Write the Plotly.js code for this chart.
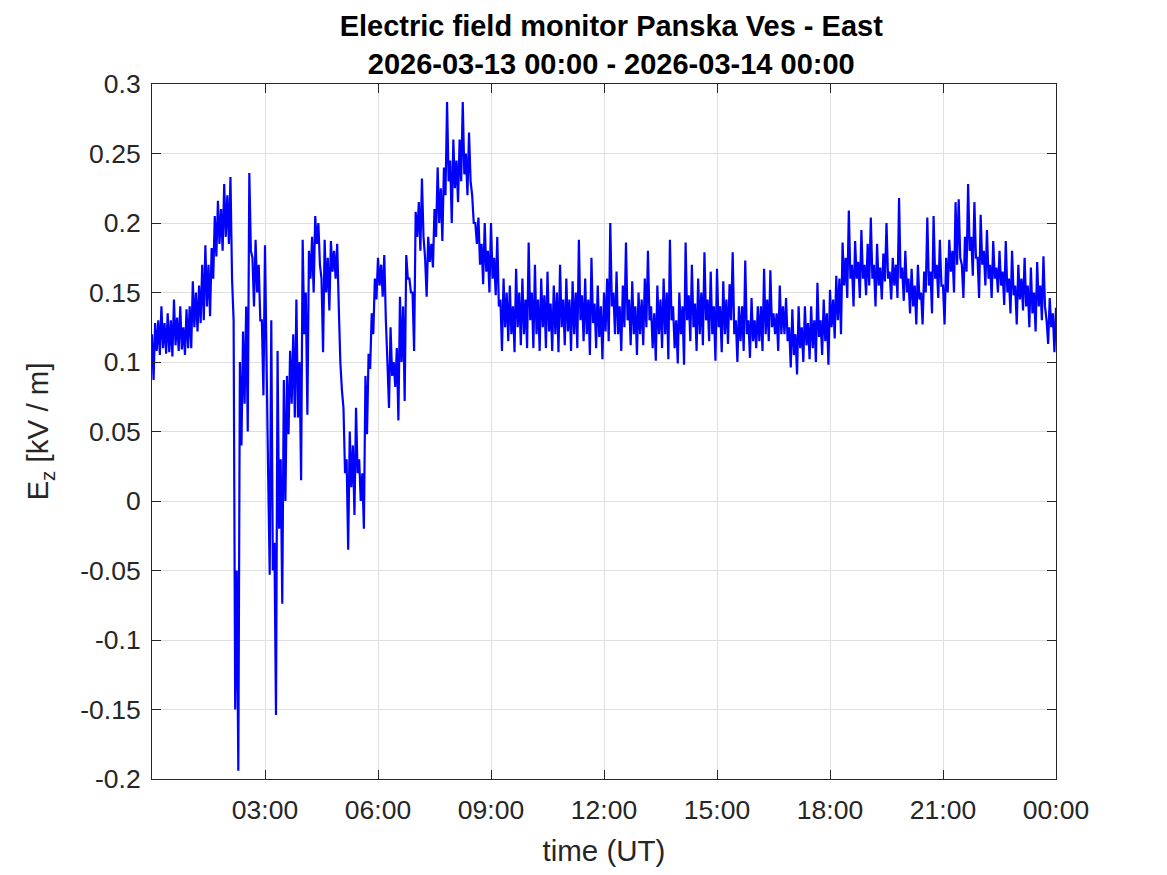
<!DOCTYPE html>
<html>
<head>
<meta charset="utf-8">
<script src="https://cdn.plot.ly/plotly-3.0.1.min.js"></script>
<style>html,body{margin:0;padding:0;background:#fff;}#chart{width:1167px;height:875px;}</style>
</head>
<body>
<div id="chart"></div>
<script>
// Sampling grid: one reading every 150 s (2.5 min) from 2026-03-13 00:00 to 2026-03-14 00:00
const startDay = '2026-03-13';
const endDay = '2026-03-14';
const stepSeconds = 150;

// Ez [kV/m], one row per hour (24 samples per row)
const ezValues = [
  0.12, 0.087, 0.128, 0.108, 0.13, 0.105, 0.14, 0.11, 0.128, 0.106, 0.135, 0.107, 0.13, 0.104, 0.145, 0.112, 0.132, 0.108, 0.14, 0.109, 0.125, 0.105, 0.138, 0.11,
  0.14, 0.11, 0.158, 0.125, 0.15, 0.122, 0.155, 0.128, 0.17, 0.13, 0.184, 0.14, 0.17, 0.133, 0.182, 0.16, 0.205, 0.176, 0.216, 0.185, 0.21, 0.18, 0.228, 0.19,
  0.22, 0.185, 0.233, 0.16, 0.13, -0.15, -0.05, -0.194, 0.1, 0.04, 0.122, 0.07, 0.14, 0.05, 0.236, 0.18, 0.175, 0.14, 0.188, 0.15, 0.17, 0.13, 0.13, 0.076,
  0.184, 0.1, 0.02, -0.053, 0.13, -0.05, -0.03, -0.154, 0.108, -0.02, 0.03, -0.074, 0.087, 0.0, 0.09, 0.048, 0.108, 0.07, 0.12, 0.06, 0.145, 0.06, 0.1, 0.015,
  0.188, 0.12, 0.15, 0.062, 0.18, 0.16, 0.19, 0.15, 0.205, 0.185, 0.2, 0.17, 0.16, 0.107, 0.188, 0.15, 0.175, 0.137, 0.187, 0.165, 0.18, 0.16, 0.185, 0.14,
  0.1, 0.08, 0.067, 0.02, 0.03, -0.035, 0.05, 0.01, 0.04, -0.01, 0.067, 0.02, 0.03, 0.0, 0.02, -0.02, 0.09, 0.048, 0.106, 0.095, 0.135, 0.12, 0.16, 0.145,
  0.175, 0.155, 0.17, 0.147, 0.177, 0.13, 0.1, 0.067, 0.125, 0.09, 0.1, 0.082, 0.11, 0.058, 0.147, 0.1, 0.14, 0.072, 0.177, 0.16, 0.16, 0.15, 0.15, 0.108,
  0.208, 0.19, 0.215, 0.18, 0.232, 0.19, 0.175, 0.147, 0.19, 0.172, 0.185, 0.168, 0.21, 0.19, 0.24, 0.2, 0.225, 0.187, 0.24, 0.22, 0.287, 0.23, 0.245, 0.2,
  0.26, 0.225, 0.245, 0.215, 0.26, 0.23, 0.287, 0.235, 0.25, 0.22, 0.265, 0.23, 0.22, 0.2, 0.2, 0.185, 0.204, 0.17, 0.185, 0.156, 0.2, 0.165, 0.18, 0.15,
  0.2, 0.16, 0.175, 0.148, 0.19, 0.14, 0.145, 0.108, 0.16, 0.125, 0.15, 0.115, 0.155, 0.12, 0.14, 0.107, 0.167, 0.125, 0.15, 0.112, 0.16, 0.12, 0.145, 0.11,
  0.186, 0.13, 0.15, 0.11, 0.17, 0.12, 0.145, 0.108, 0.16, 0.125, 0.148, 0.11, 0.165, 0.122, 0.142, 0.108, 0.155, 0.12, 0.15, 0.107, 0.17, 0.125, 0.145, 0.112,
  0.16, 0.122, 0.145, 0.108, 0.158, 0.12, 0.15, 0.11, 0.188, 0.13, 0.148, 0.115, 0.16, 0.12, 0.145, 0.105, 0.175, 0.128, 0.142, 0.11, 0.155, 0.118, 0.14, 0.102,
  0.15, 0.122, 0.16, 0.115, 0.2, 0.14, 0.15, 0.12, 0.165, 0.12, 0.14, 0.108, 0.155, 0.125, 0.186, 0.13, 0.145, 0.112, 0.158, 0.12, 0.14, 0.105, 0.15, 0.12,
  0.145, 0.112, 0.16, 0.125, 0.18, 0.13, 0.14, 0.11, 0.135, 0.101, 0.155, 0.12, 0.145, 0.11, 0.16, 0.12, 0.15, 0.102, 0.188, 0.13, 0.14, 0.11, 0.13, 0.099,
  0.15, 0.12, 0.14, 0.098, 0.186, 0.13, 0.148, 0.115, 0.17, 0.125, 0.142, 0.108, 0.16, 0.12, 0.15, 0.112, 0.179, 0.13, 0.145, 0.115, 0.165, 0.12, 0.14, 0.101,
  0.167, 0.125, 0.14, 0.107, 0.158, 0.12, 0.145, 0.113, 0.156, 0.13, 0.179, 0.12, 0.13, 0.1, 0.14, 0.115, 0.14, 0.108, 0.173, 0.12, 0.13, 0.103, 0.146, 0.115,
  0.13, 0.11, 0.14, 0.115, 0.14, 0.108, 0.167, 0.12, 0.145, 0.115, 0.166, 0.125, 0.135, 0.12, 0.135, 0.108, 0.155, 0.12, 0.14, 0.12, 0.146, 0.115, 0.125, 0.096,
  0.138, 0.105, 0.12, 0.091, 0.14, 0.11, 0.125, 0.1, 0.14, 0.112, 0.128, 0.102, 0.14, 0.11, 0.13, 0.1, 0.157, 0.118, 0.13, 0.105, 0.145, 0.115, 0.135, 0.098,
  0.152, 0.125, 0.145, 0.117, 0.162, 0.13, 0.16, 0.12, 0.186, 0.155, 0.175, 0.146, 0.209, 0.16, 0.17, 0.14, 0.187, 0.16, 0.172, 0.146, 0.195, 0.16, 0.17, 0.148,
  0.185, 0.155, 0.204, 0.16, 0.17, 0.14, 0.185, 0.155, 0.168, 0.145, 0.178, 0.158, 0.2, 0.16, 0.165, 0.145, 0.175, 0.155, 0.17, 0.146, 0.218, 0.16, 0.168, 0.144,
  0.18, 0.15, 0.16, 0.135, 0.167, 0.14, 0.155, 0.127, 0.17, 0.145, 0.15, 0.127, 0.165, 0.15, 0.204, 0.155, 0.165, 0.135, 0.205, 0.16, 0.17, 0.146, 0.188, 0.155,
  0.155, 0.127, 0.175, 0.15, 0.188, 0.165, 0.18, 0.15, 0.215, 0.17, 0.217, 0.175, 0.17, 0.146, 0.19, 0.165, 0.228, 0.18, 0.19, 0.162, 0.215, 0.175, 0.175, 0.146,
  0.206, 0.17, 0.18, 0.155, 0.195, 0.16, 0.17, 0.146, 0.187, 0.16, 0.168, 0.15, 0.18, 0.155, 0.165, 0.141, 0.187, 0.15, 0.16, 0.135, 0.18, 0.148, 0.155, 0.127,
  0.17, 0.145, 0.16, 0.137, 0.175, 0.14, 0.155, 0.125, 0.168, 0.135, 0.15, 0.122, 0.172, 0.14, 0.155, 0.13, 0.176, 0.14, 0.13, 0.113, 0.146, 0.125, 0.135, 0.107,
  0.139
];

const xTickTimes = ['2026-03-13 03:00', '2026-03-13 06:00', '2026-03-13 09:00', '2026-03-13 12:00',
                    '2026-03-13 15:00', '2026-03-13 18:00', '2026-03-13 21:00', '2026-03-14 00:00'];
const xTickLabels = ['03:00', '06:00', '09:00', '12:00', '15:00', '18:00', '21:00', '00:00'];
const yTickValues = [-0.2, -0.15, -0.1, -0.05, 0, 0.05, 0.1, 0.15, 0.2, 0.25, 0.3];
const yTickLabels = ['-0.2', '-0.15', '-0.1', '-0.05', '0', '0.05', '0.1', '0.15', '0.2', '0.25', '0.3'];

function pad(n) { return (n < 10 ? '0' : '') + n; }
function stamp(totalSec) {
  const day = totalSec >= 86400 ? endDay : startDay;
  const s = totalSec % 86400;
  return day + ' ' + pad(Math.floor(s / 3600)) + ':' + pad(Math.floor((s % 3600) / 60)) + ':' + pad(s % 60);
}
const times = ezValues.map((v, i) => stamp(i * stepSeconds));

const FONT = 'Liberation Sans, Arial, Helvetica, sans-serif';
const AX = '#262626';

const trace = {
  type: 'scatter', mode: 'lines',
  x: times, y: ezValues,
  line: { color: '#0000ff', width: 2.2, simplify: false },
  hoverinfo: 'skip'
};

const layout = {
  width: 1167, height: 875,
  margin: { l: 152, r: 111, t: 84, b: 96 },
  paper_bgcolor: '#ffffff', plot_bgcolor: '#ffffff',
  showlegend: false,
  title: {
    text: '<b>Electric field monitor Panska Ves - East</b><br><b>2026-03-13 00:00 - 2026-03-14 00:00</b>',
    font: { family: FONT, size: 29, color: '#000000' },
    xref: 'paper', x: 0.508, xanchor: 'center',
    yref: 'paper', y: 1, yanchor: 'bottom',
    pad: { b: 48 }
  },
  xaxis: {
    type: 'date',
    range: [startDay + ' 00:00', endDay + ' 00:00'],
    tickmode: 'array', tickvals: xTickTimes, ticktext: xTickLabels,
    ticks: 'inside', ticklen: 9, tickwidth: 1, tickcolor: AX,
    ticklabelstandoff: 7,
    showline: true, linecolor: AX, linewidth: 1, mirror: 'ticks',
    showgrid: true, gridcolor: '#dfdfdf', gridwidth: 1, zeroline: false,
    tickfont: { family: FONT, size: 26.5, color: AX },
    title: { text: 'time (UT)', font: { family: FONT, size: 29.5, color: AX }, standoff: 16 }
  },
  yaxis: {
    range: [-0.2, 0.3],
    tickmode: 'array', tickvals: yTickValues, ticktext: yTickLabels,
    ticks: 'inside', ticklen: 9, tickwidth: 1, tickcolor: AX,
    ticklabelstandoff: 5,
    showline: true, linecolor: AX, linewidth: 1, mirror: 'ticks',
    showgrid: true, gridcolor: '#dfdfdf', gridwidth: 1, zeroline: false,
    tickfont: { family: FONT, size: 26.5, color: AX },
    title: { text: 'E<sub>z</sub> [kV / m]', font: { family: FONT, size: 29.5, color: AX }, standoff: 22 }
  }
};

Plotly.newPlot('chart', [trace], layout, { staticPlot: true, displayModeBar: false });
</script>
</body>
</html>
